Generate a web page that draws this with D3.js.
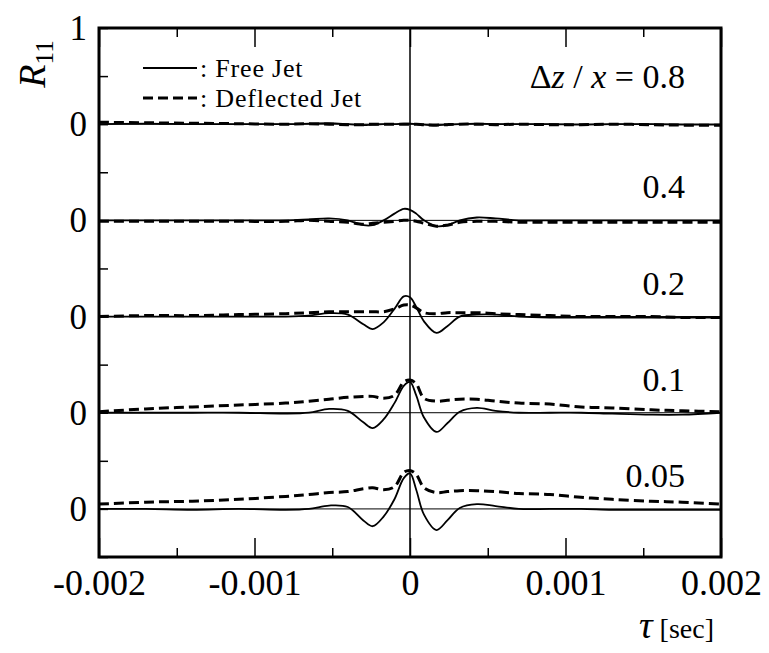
<!DOCTYPE html>
<html>
<head>
<meta charset="utf-8">
<script src="https://cdn.jsdelivr.net/npm/d3@7"></script>
<style>
    body { margin: 0; background: #fff; }
    svg text { font-family: "Liberation Serif", "DejaVu Serif", serif; fill: #000; }
</style>
</head>
<body>
<div id="chart"></div>
<script>
'use strict';

// time lag, seconds
const tau = [-0.002, -0.0017, -0.0014, -0.0011, -0.0008, -0.00065, -0.00052, -0.0004,
    -0.0003, -0.00024, -0.00017, -0.0001, -0.00004, 0, 0.00004, 0.00009, 0.00017, 0.00024,
    0.00032, 0.00043, 0.00055, 0.0007, 0.0009, 0.0011, 0.0013, 0.00155, 0.00175, 0.002];

// panels, top to bottom, and their stacking offset on the R11 axis
const panelLabels = ["0.8", "0.4", "0.2", "0.1", "0.05"];
const panelOffsets = [4, 3, 2, 1, 0];

// Free Jet (solid)
const free08 = [0, 0.005, 0, 0, 0, 0.005, 0.01, 0, -0.01, -0.005, 0, 0, 0.005, 0.005, 0, -0.005, -0.01, -0.005, 0, 0.005, 0, 0, 0, -0.005, 0, 0, -0.005, -0.005];
const free04 = [0, 0, 0, 0, 0, 0.01, 0.02, 0, -0.05, -0.05, 0, 0.07, 0.12, 0.11, 0.07, 0, -0.06, -0.05, 0, 0.03, 0.02, 0, 0, 0, 0, 0, 0, 0];
const free02 = [0, 0, 0, 0, 0, 0.01, 0.035, 0.02, -0.08, -0.13, -0.06, 0.08, 0.21, 0.2, 0.1, -0.05, -0.17, -0.1, 0, 0.02, 0.02, 0, -0.01, -0.01, -0.01, -0.01, -0.01, -0.01];
const free01 = [0, 0, 0, 0, -0.01, 0, 0.04, 0.02, -0.1, -0.16, -0.07, 0.1, 0.28, 0.32, 0.18, -0.05, -0.2, -0.11, 0.01, 0.05, 0.02, 0, 0, 0, -0.01, -0.02, -0.02, 0];
const free005 = [0, 0, -0.01, 0, -0.01, 0, 0.035, 0.02, -0.12, -0.18, -0.08, 0.1, 0.32, 0.37, 0.2, -0.06, -0.22, -0.12, 0.01, 0.05, 0.03, 0, 0, 0, -0.01, -0.01, -0.01, -0.01];

// Deflected Jet (dashed)
const defl08 = [0.02, 0.015, 0.01, 0.005, 0, 0.005, 0, -0.005, -0.005, 0, 0, 0, 0, 0, 0, -0.005, -0.01, -0.005, 0, 0, -0.005, 0, -0.005, -0.005, 0, -0.005, -0.01, -0.01];
const defl04 = [-0.01, -0.01, -0.01, -0.01, -0.01, 0, -0.01, -0.02, -0.04, -0.03, -0.02, -0.01, 0, 0, -0.01, -0.03, -0.06, -0.05, -0.02, -0.01, -0.01, -0.02, -0.02, -0.02, -0.02, -0.02, -0.02, -0.02];
const defl02 = [0, 0.01, 0.01, 0.02, 0.03, 0.04, 0.05, 0.05, 0.05, 0.05, 0.05, 0.08, 0.12, 0.12, 0.09, 0.04, 0.03, 0.04, 0.04, 0.04, 0.03, 0.02, 0.01, 0, 0, 0, -0.01, -0.01];
const defl01 = [0.01, 0.04, 0.06, 0.08, 0.1, 0.12, 0.14, 0.16, 0.17, 0.17, 0.15, 0.18, 0.32, 0.34, 0.3, 0.15, 0.12, 0.13, 0.14, 0.14, 0.12, 0.1, 0.09, 0.06, 0.05, 0.03, 0.02, 0.01];
const defl005 = [0.05, 0.07, 0.08, 0.1, 0.13, 0.15, 0.17, 0.18, 0.21, 0.22, 0.2, 0.23, 0.38, 0.4, 0.36, 0.22, 0.17, 0.18, 0.19, 0.19, 0.18, 0.16, 0.15, 0.12, 0.1, 0.08, 0.07, 0.05];

const freeSeries = [free08, free04, free02, free01, free005];
const deflSeries = [defl08, defl04, defl02, defl01, defl005];

const xTicks = [-0.002, -0.001, 0, 0.001, 0.002];
const xMinorTicks = [-0.0015, -0.0005, 0.0005, 0.0015];
const yTicks = [-0.5, 0, 0.5, 1, 1.5, 2, 2.5, 3, 3.5, 4, 4.5, 5];

const W = 769, H = 653;
const box = {left: 99, right: 721, top: 28, bottom: 557};

const svg = d3.select("#chart").append("svg")
    .attr("width", W)
    .attr("height", H);

const x = d3.scaleLinear().domain([-0.002, 0.002]).range([box.left, box.right]);
const y = d3.scaleLinear().domain([-0.5, 5]).range([box.bottom, box.top]);

// thin reference lines: zero of every panel and tau = 0
svg.append("g").selectAll("line")
    .data(panelOffsets)
    .join("line")
    .attr("x1", box.left).attr("x2", box.right)
    .attr("y1", d => y(d)).attr("y2", d => y(d))
    .attr("stroke", "#000").attr("stroke-width", 1);

svg.append("line")
    .attr("x1", x(0)).attr("x2", x(0))
    .attr("y1", box.top).attr("y2", box.bottom)
    .attr("stroke", "#000").attr("stroke-width", 1.5);

// curves
const line = off => d3.line()
    .x((d, i) => x(tau[i]))
    .y(d => y(d + off))
    .curve(d3.curveCatmullRom.alpha(0.5));

const curves = svg.append("g");
panelOffsets.forEach((off, k) => {
    curves.append("path")
        .attr("d", line(off)(deflSeries[k]))
        .attr("fill", "none")
        .attr("stroke", "#000")
        .attr("stroke-width", 3)
        .attr("stroke-dasharray", "10,5");
    curves.append("path")
        .attr("d", line(off)(freeSeries[k]))
        .attr("fill", "none")
        .attr("stroke", "#000")
        .attr("stroke-width", 1.8);
});

// axes: ticks drawn inward
const bottomAxis = svg.append("g")
    .attr("transform", `translate(0,${box.bottom})`)
    .call(d3.axisBottom(x).tickValues(xTicks).tickSize(-19).tickPadding(27)
        .tickFormat(d => d === 0 ? "0" : d3.format(".3f")(d).replace("−", "-")));
svg.append("g")
    .attr("transform", `translate(0,${box.bottom})`)
    .call(d3.axisBottom(x).tickValues(xMinorTicks).tickSize(-9).tickFormat(""));
svg.append("g")
    .attr("transform", `translate(0,${box.top})`)
    .call(d3.axisTop(x).tickValues(xTicks).tickSize(-19).tickFormat(""));
svg.append("g")
    .attr("transform", `translate(0,${box.top})`)
    .call(d3.axisTop(x).tickValues(xMinorTicks).tickSize(-9).tickFormat(""));

const leftAxis = svg.append("g")
    .attr("transform", `translate(${box.left},0)`)
    .call(d3.axisLeft(y).tickValues(yTicks).tickSize(-9).tickPadding(12)
        .tickFormat(d => d === 5 ? "1" : (Number.isInteger(d) ? "0" : "")));

svg.selectAll(".domain").remove();
svg.selectAll(".tick line").attr("stroke", "#000").attr("stroke-width", 1.5);
bottomAxis.selectAll("text").style("font-size", "36px").attr("dy", "0.3em");
leftAxis.selectAll("text").style("font-size", "35px").attr("dy", "0.33em");

// frame
svg.append("rect")
    .attr("x", box.left).attr("y", box.top)
    .attr("width", box.right - box.left).attr("height", box.bottom - box.top)
    .attr("fill", "none").attr("stroke", "#000").attr("stroke-width", 3);

// panel labels
const labels = svg.append("g").style("font-size", "34px").attr("text-anchor", "end");
panelLabels.forEach((lab, k) => {
    const t = labels.append("text")
        .attr("x", 685)
        .attr("y", y(panelOffsets[k]) - (k === 0 ? 36 : 22));
    if (k === 0) {
        t.append("tspan").text("\u0394");
        t.append("tspan").style("font-style", "italic").text("z");
        t.append("tspan").text(" / ");
        t.append("tspan").style("font-style", "italic").text("x");
        t.append("tspan").text(" = " + lab);
    } else {
        t.text(lab);
    }
});

// legend
const legend = svg.append("g").style("font-size", "26px").style("letter-spacing", "0.8px");
[["Free Jet", null, 1.8, 68], ["Deflected Jet", "10,5", 3, 98]].forEach(([name, dash, sw, ly]) => {
    legend.append("line")
        .attr("x1", 143).attr("x2", 197).attr("y1", ly).attr("y2", ly)
        .attr("stroke", "#000").attr("stroke-width", sw)
        .attr("stroke-dasharray", dash);
    legend.append("text").attr("x", 200).attr("y", ly + 9).text(": " + name);
});

// axis titles
const yTitle = svg.append("text")
    .attr("transform", "translate(45,64) rotate(-90)")
    .attr("text-anchor", "middle")
    .style("font-size", "38px");
yTitle.append("tspan").style("font-style", "italic").text("R");
yTitle.append("tspan").attr("dy", 8).style("font-size", "25px").text("11");

const xTitle = svg.append("text")
    .attr("x", 714).attr("y", 638)
    .attr("text-anchor", "end");
xTitle.append("tspan").style("font-size", "38px").style("font-style", "italic").text("\u03C4");
xTitle.append("tspan").style("font-size", "28px").text(" [sec]");
</script>
</body>
</html>
